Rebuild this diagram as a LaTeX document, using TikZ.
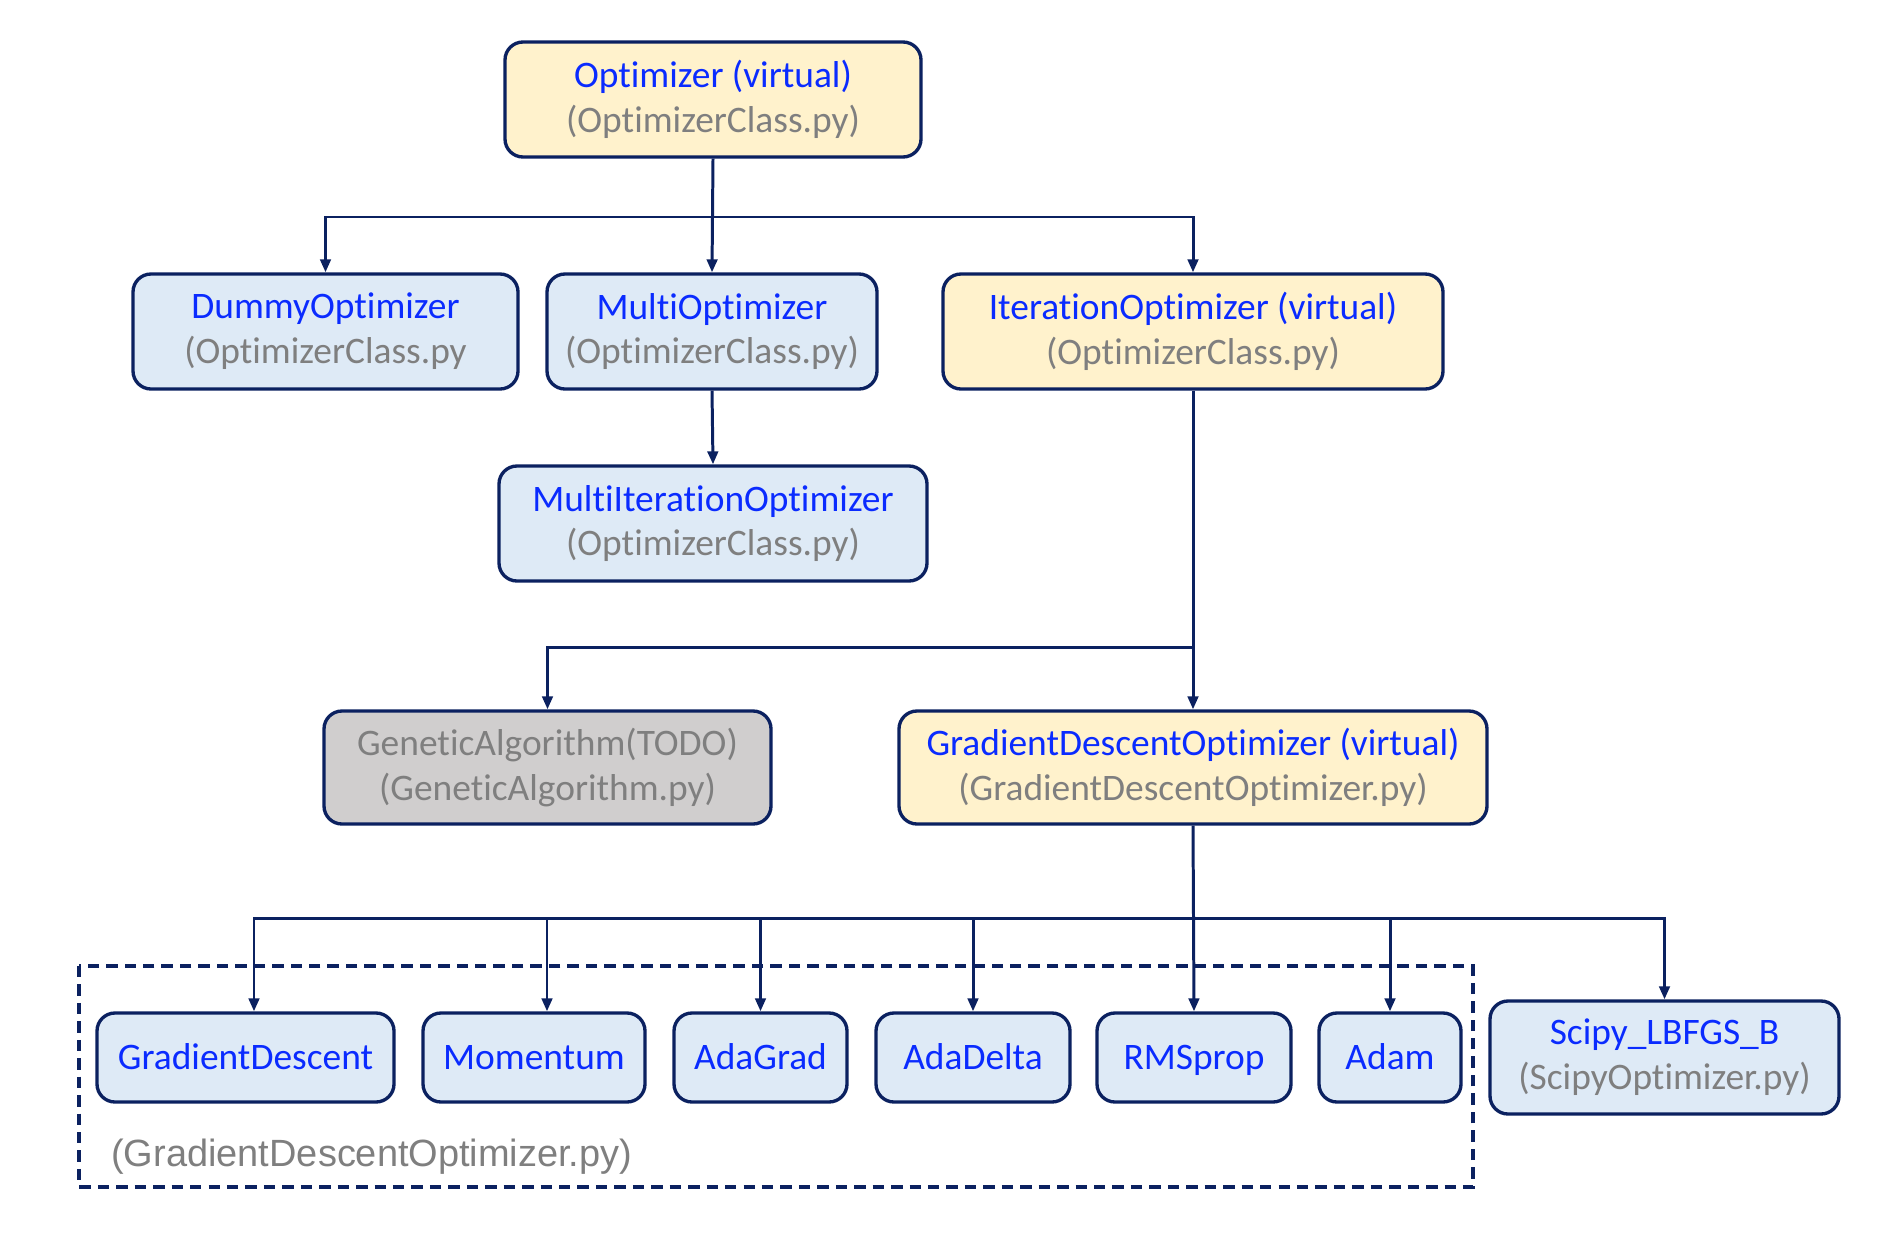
\documentclass[tikz,border=0pt]{standalone}
\usepackage{fontspec}
\setmainfont{Carlito}[Ligatures={NoCommon}]
\newfontfamily\arialf{Liberation Sans}
\usetikzlibrary{arrows.meta}
\definecolor{navy}{HTML}{0B2160}
\definecolor{tblue}{HTML}{0A2BFF}
\definecolor{tgray}{HTML}{7F7F7F}
\definecolor{fyellow}{HTML}{FFF2CC}
\definecolor{fblue}{HTML}{DEEAF6}
\definecolor{fgray}{HTML}{D0CECE}
\begin{document}
\begin{tikzpicture}[x=0.02cm,y=-0.02cm,
  box/.style 2 args={draw=navy, line width=1.9pt, rounded corners=0.36cm,
    minimum width=#1*0.02cm, minimum height=#2*0.02cm, align=center,
    inner sep=0pt, font=\fontsize{21.3}{25.5}\selectfont},
  ybox/.style={fill=fyellow},
  bbox/.style={fill=fblue},
  gbox/.style={fill=fgray},
  sline/.style={text height=13.7pt, text depth=0pt},
  conn/.style={draw=navy, line width=1.7pt},
  arr/.style={conn, -{Triangle[length=0.26cm,width=0.21cm]}},
  grp/.style={draw=navy, line width=1.9pt, dash pattern=on 6.5pt off 4pt},
  grplabel/.style={anchor=west, inner sep=0pt, text=tgray, font=\arialf\fontsize{21.6}{25}\selectfont}
]
\fill[white] (0,0) rectangle (1895,1237);
\useasboundingbox (0,0) rectangle (1895,1237);

% group frame
\draw[grp] (79,966) rectangle (1473,1187);
\node[grplabel] (grplbl) at (111,1157) {(GradientDescentOptimizer.py)};

% nodes
\node[box={416}{115}, ybox] (opt) at (713,99.5)
  {\textcolor{tblue}{Optimizer (virtual)}\\\textcolor{tgray}{(OptimizerClass.py)}};
\node[box={385}{115}, bbox] (dummy) at (325.5,331.5)
  {\textcolor{tblue}{DummyOptimizer}\\\textcolor{tgray}{(OptimizerClass.py}};
\node[box={330}{115}, bbox] (multi) at (712,331.5)
  {\textcolor{tblue}{MultiOptimizer}\\\textcolor{tgray}{(OptimizerClass.py)}};
\node[box={500}{115}, ybox] (iter) at (1193,331.5)
  {\textcolor{tblue}{IterationOptimizer (virtual)}\\\textcolor{tgray}{(OptimizerClass.py)}};
\node[box={428}{115}, bbox] (multiit) at (713,523.5)
  {\textcolor{tblue}{MultiIterationOptimizer}\\\textcolor{tgray}{(OptimizerClass.py)}};
\node[box={447}{113}, gbox] (gen) at (547.5,767.5)
  {\textcolor{tgray}{GeneticAlgorithm(TODO)}\\\textcolor{tgray}{(GeneticAlgorithm.py)}};
\node[box={588}{113}, ybox] (gdo) at (1193,767.5)
  {\textcolor{tblue}{GradientDescentOptimizer (virtual)}\\\textcolor{tgray}{(GradientDescentOptimizer.py)}};

\node[box={297}{89}, bbox, sline] (gdesc) at (245.5,1057.5) {\textcolor{tblue}{GradientDescent}};
\node[box={222}{89}, bbox, sline] (mom) at (534,1057.5) {\textcolor{tblue}{Momentum}};
\node[box={173}{89}, bbox, sline] (adagrad) at (760.5,1057.5) {\textcolor{tblue}{AdaGrad}};
\node[box={194}{89}, bbox, sline] (adadelta) at (973,1057.5) {\textcolor{tblue}{AdaDelta}};
\node[box={194}{89}, bbox, sline] (rms) at (1194,1057.5) {\textcolor{tblue}{RMSprop}};
\node[box={142}{89}, bbox, sline] (adam) at (1390,1057.5) {\textcolor{tblue}{Adam}};
\node[box={349}{113}, bbox] (scipy) at (1664.5,1057.5)
  {\textcolor{tblue}{Scipy\_LBFGS\_B}\\\textcolor{tgray}{(ScipyOptimizer.py)}};

% junctions
\coordinate (j1) at (713,217);
\coordinate (j2) at (1193,647);
\coordinate (j3) at (1193,918);

% connectors
\draw[arr] (opt.south) -- (multi.north);
\draw[arr] (j1) -| (dummy.north);
\draw[arr] (j1) -| (iter.north);
\draw[arr] (multi.south) -- (multiit.north);
\draw[arr] (iter.south) -- (gdo.north);
\draw[arr] (j2) -| (gen.north);
\draw[arr] (gdo.south) -- (rms.north);
\draw[arr] (j3) -| ([xshift=0.17cm]gdesc.north);
\draw[arr] (j3) -| ([xshift=0.26cm]mom.north);
\draw[arr] (j3) -| (adagrad.north);
\draw[arr] (j3) -| (adadelta.north);
\draw[arr] (j3) -| (adam.north);
\draw[arr] (j3) -| (scipy.north);
\end{tikzpicture}
\end{document}
